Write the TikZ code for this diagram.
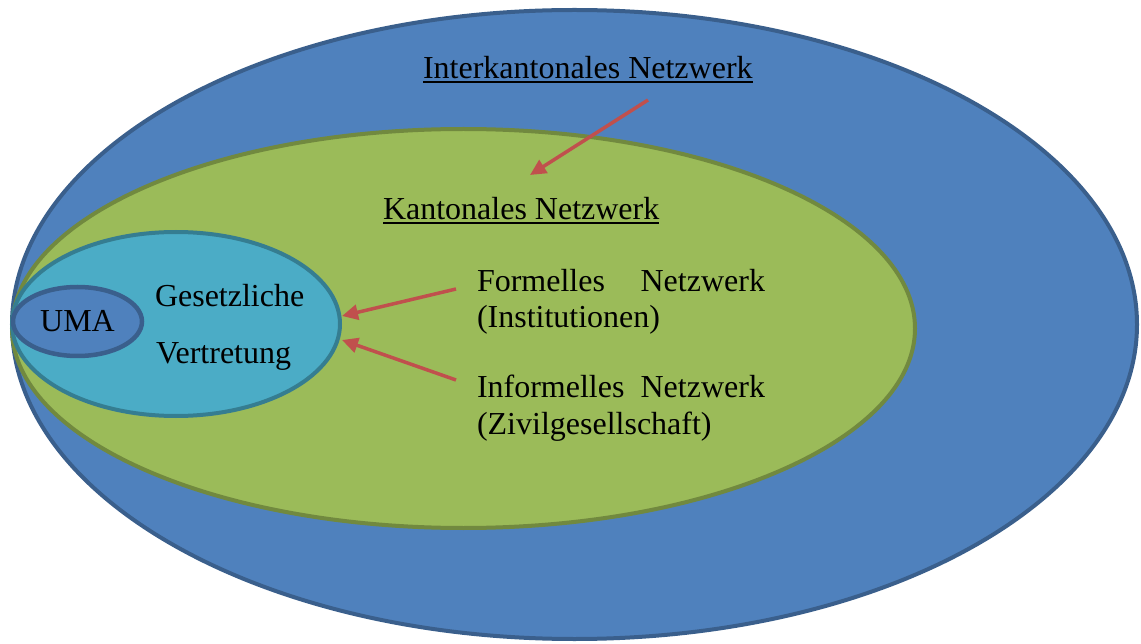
\documentclass[tikz,border=0pt]{standalone}
\usepackage{fontspec}
\setmainfont{Liberation Serif}
\usetikzlibrary{shapes.geometric,arrows.meta}
\definecolor{blueF}{HTML}{4F81BD}
\definecolor{blueD}{HTML}{3A5F8C}
\definecolor{greenF}{HTML}{9BBB59}
\definecolor{greenD}{HTML}{71893F}
\definecolor{cyanF}{HTML}{4BACC6}
\definecolor{cyanD}{HTML}{357D91}
\definecolor{redA}{HTML}{C0504D}
\begin{document}
\begin{tikzpicture}[x=1pt,y=-1pt,
  oval/.style={ellipse, inner sep=0pt, outer sep=0pt, line width=4pt},
  lbl/.style={font=\fontsize{32}{36}\selectfont, inner sep=0pt, outer sep=0pt, text=black},
  link/.style={draw=redA, line width=3.5pt, -{Triangle[length=16pt,width=15pt]}},
  uline/.style={line width=2pt, black}
]
\useasboundingbox (0,0) rectangle (1141,644);
% ellipses
\node[oval, fill=blueF, draw=blueD, minimum width=1125pt, minimum height=629pt] (outer) at (574.5,324.5) {};
\node[oval, fill=greenF, draw=greenD, minimum width=903pt, minimum height=399pt] (kant) at (463.5,328.5) {};
\node[oval, fill=cyanF, draw=cyanD, minimum width=328pt, minimum height=184pt] (gesetz) at (176,324) {};
\node[oval, fill=blueF, draw=blueD, line width=4.5pt, minimum width=129pt, minimum height=69pt, font=\fontsize{32}{36}\selectfont] (uma) at (77.5,321.5) {UMA};
% labels
\node[lbl, anchor=base west] (inter) at (423,79) {Interkantonales Netzwerk};
\draw[uline] ([yshift=-3.5pt]inter.base west) -- ([yshift=-3.5pt]inter.base east);
\node[lbl, anchor=base west] (kantT) at (383,220) {Kantonales Netzwerk};
\draw[uline] ([yshift=-3.5pt]kantT.base west) -- ([yshift=-3.5pt]kantT.base east);
\node[lbl, anchor=base west] (gesT1) at (155,307) {Gesetzliche};
\node[lbl, anchor=base west] (gesT2) at (156,363) {Vertretung};
\node[lbl, anchor=base west, text width=288pt, align=left] (formal) at (477,292) {Formelles\hfill Netzwerk\\(Institutionen)};
\node[lbl, anchor=base west, text width=288pt, align=left] (informal) at (477,398) {Informelles\hfill Netzwerk\\(Zivilgesellschaft)};
% arrows
\draw[link] ([shift={(225,21)}]inter.base west) -- ([shift={(147,-45)}]kantT.base west);
\draw[link] ([shift={(-21,-3)}]formal.base west) -- ([shift={(2,-8)}]gesetz.east);
\draw[link] ([shift={(-21,-18)}]informal.base west) -- ([shift={(2,16)}]gesetz.east);
\end{tikzpicture}
\end{document}
